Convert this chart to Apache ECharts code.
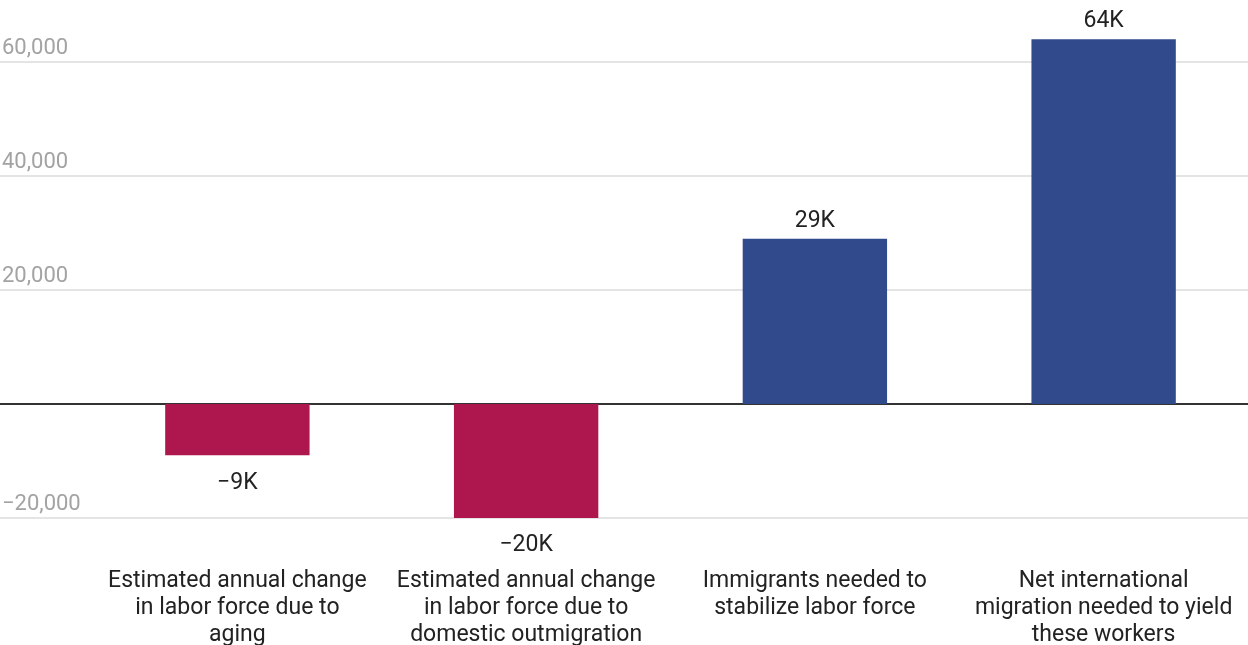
<!DOCTYPE html>
<html>
<head>
<meta charset="utf-8">
<script src="https://cdn.jsdelivr.net/npm/echarts@6/dist/echarts.min.js"></script>
<style>
html,body{margin:0;padding:0;background:#fff;}
#chart{width:1248px;height:645px;}
</style>
</head>
<body>
<div id="chart"></div>
<script>
const categories = [
  "Estimated annual change\nin labor force due to\naging",
  "Estimated annual change\nin labor force due to\ndomestic outmigration",
  "Immigrants needed to\nstabilize labor force",
  "Net international\nmigration needed to yield\nthese workers"
];
const values = [-9000, -20000, 29000, 64000];
const valueLabels = ["\u22129K", "\u221220K", "29K", "64K"];
const yTicks = [-20000, 0, 20000, 40000, 60000];

const RED = "#AE164E";
const BLUE = "#304A8C";
const FONT = "Roboto";

const chart = echarts.init(document.getElementById("chart"), null, {renderer: "canvas"});

const barData = values.map((v, i) => ({
  value: v,
  itemStyle: {color: v < 0 ? RED : BLUE},
  label: {
    position: v < 0 ? "bottom" : "top",
    distance: v < 0 ? 16 : 6,
    formatter: valueLabels[i]
  }
}));

chart.setOption({
  animation: false,
  textStyle: {fontFamily: FONT},
  grid: [
    {left: 0, right: 0, top: 62, bottom: 127, containLabel: false, outerBoundsMode: "none"},
    {left: 93, right: 0, top: 5, bottom: 127, containLabel: false, outerBoundsMode: "none"}
  ],
  xAxis: [
    {
      gridIndex: 0, type: "value", min: 0, max: 1,
      axisLine: {show: true, onZero: true, lineStyle: {color: "#333", width: 2}},
      axisTick: {show: false}, axisLabel: {show: false}, splitLine: {show: false}
    },
    {
      gridIndex: 1, type: "category", data: categories,
      axisLine: {show: false}, axisTick: {show: false},
      axisLabel: {
        interval: 0, margin: 50, color: "#222", fontSize: 23, lineHeight: 27,
        fontFamily: FONT, align: "center", verticalAlign: "top"
      }
    }
  ],
  yAxis: [
    {
      gridIndex: 0, type: "value", min: yTicks[0], max: yTicks[yTicks.length - 1], interval: 20000,
      axisLine: {show: false}, axisTick: {show: false},
      splitLine: {show: true, lineStyle: {color: "#e4e4e4", width: 2}},
      axisLabel: {
        inside: true, margin: 2, color: "#a3a3a3", fontSize: 22, fontFamily: FONT,
        align: "left", verticalAlign: "bottom", padding: [0, 0, 3, 0],
        formatter: function (v) {
          if (v === 0) return "";
          return v.toLocaleString("en-US").replace("-", "\u2212");
        }
      }
    },
    {
      gridIndex: 1, type: "value", min: -20000, max: 70000, show: false,
      splitLine: {show: false}
    }
  ],
  series: [
    {
      type: "bar", xAxisIndex: 1, yAxisIndex: 1,
      data: barData, barWidth: "50%",
      label: {show: true, color: "#222", fontSize: 23, fontFamily: FONT}
    }
  ]
});
</script>
</body>
</html>
